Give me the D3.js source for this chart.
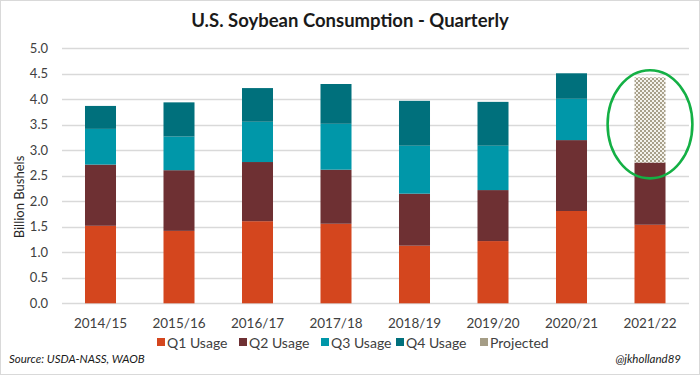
<!DOCTYPE html>
<html>
<head>
<meta charset="utf-8">
<script src="https://cdn.jsdelivr.net/npm/d3@7"></script>
<style>
  html, body { margin: 0; padding: 0; background: #fff; }
  svg { display: block; font-family: Lato, 'Noto Sans', sans-serif; }
</style>
</head>
<body>
<svg id="chart" width="700" height="375"></svg>
<script>
// values (billion bushels)
const years = ['2014/15', '2015/16', '2016/17', '2017/18', '2018/19', '2019/20', '2020/21', '2021/22'];
const q1Usage = [1.52, 1.42, 1.61, 1.56, 1.13, 1.22, 1.81, 1.54];
const q2Usage = [1.20, 1.19, 1.16, 1.06, 1.02, 1.00, 1.39, 1.22];
const q3Usage = [0.70, 0.66, 0.79, 0.90, 0.94, 0.87, 0.81, 0];
const q4Usage = [0.45, 0.67, 0.66, 0.78, 0.88, 0.86, 0.50, 0];
const projected = [0, 0, 0, 0, 0, 0, 0, 1.67];
const yTicks = [0, 0.5, 1, 1.5, 2, 2.5, 3, 3.5, 4, 4.5, 5];
const seriesNames = ['Q1 Usage', 'Q2 Usage', 'Q3 Usage', 'Q4 Usage', 'Projected'];
const seriesColors = ['#d4461e', '#6e3033', '#0097a9', '#00707c', '#a59d86'];

const width = 700, height = 375;
const svg = d3.select('#chart');

// outer frame
svg.append('rect')
  .attr('x', 0.5).attr('y', 0.5)
  .attr('width', width - 1).attr('height', height - 1)
  .attr('fill', '#fff').attr('stroke', '#d9d9d9');

// checkered fill for the projected segment
const defs = svg.append('defs');
const pat = defs.append('pattern')
  .attr('id', 'proj-pattern')
  .attr('patternUnits', 'userSpaceOnUse')
  .attr('width', 4).attr('height', 4);
pat.append('rect').attr('width', 4).attr('height', 4).attr('fill', '#a8a08a');
pat.append('rect').attr('x', 0).attr('y', 0).attr('width', 2).attr('height', 2).attr('fill', '#f4f2ec');
pat.append('rect').attr('x', 2).attr('y', 2).attr('width', 2).attr('height', 2).attr('fill', '#f4f2ec');

const x = d3.scaleBand()
  .domain(years)
  .range([61.25, 689.25])
  .paddingInner(0.605)
  .paddingOuter(0.3025);

const y = d3.scaleLinear()
  .domain([0, 5])
  .range([303.3, 48.3]);

// gridlines
svg.append('g')
  .selectAll('line')
  .data(yTicks)
  .join('line')
  .attr('x1', 62).attr('x2', 689)
  .attr('y1', d => Math.round(y(d)) + 0.5)
  .attr('y2', d => Math.round(y(d)) + 0.5)
  .attr('stroke', '#d9d9d9')
  .attr('stroke-width', 1.3);

// y tick labels
svg.append('g')
  .selectAll('text')
  .data(yTicks)
  .join('text')
  .attr('x', 48)
  .attr('y', d => y(d))
  .attr('dy', '0.35em')
  .attr('text-anchor', 'end')
  .attr('font-size', 13)
  .attr('fill', '#404040')
  .text(d => d3.format('.1f')(d));

// stacked bars
const rows = years.map((yr, i) => ({
  year: yr,
  q1: q1Usage[i], q2: q2Usage[i], q3: q3Usage[i], q4: q4Usage[i], proj: projected[i]
}));
const keys = ['q1', 'q2', 'q3', 'q4', 'proj'];
const stacked = d3.stack().keys(keys)(rows);

const fills = ['#d4461e', '#6e3033', '#0097a9', '#00707c', 'url(#proj-pattern)'];

svg.append('g')
  .selectAll('g')
  .data(stacked)
  .join('g')
  .attr('fill', (d, i) => fills[i])
  .selectAll('rect')
  .data(d => d.filter(s => s[1] - s[0] > 0))
  .join('rect')
  .attr('x', d => x(d.data.year))
  .attr('width', x.bandwidth())
  .attr('y', d => y(d[1]))
  .attr('height', d => y(d[0]) - y(d[1]));

// x labels
svg.append('g')
  .selectAll('text')
  .data(years)
  .join('text')
  .attr('x', d => x(d) + x.bandwidth() / 2)
  .attr('y', 328)
  .attr('text-anchor', 'middle')
  .attr('font-size', 13.5)
  .attr('fill', '#404040')
  .text(d => d);

// highlight ellipse around the projected year
const last = years[years.length - 1];
svg.append('ellipse')
  .attr('cx', x(last) + x.bandwidth() / 2)
  .attr('cy', y(3.51))
  .attr('rx', x.step() * 0.54)
  .attr('ry', y(2.45) - y(3.51))
  .attr('fill', 'none')
  .attr('stroke', '#14b045')
  .attr('stroke-width', 2.6);

// y axis title
svg.append('text')
  .attr('transform', 'translate(24,197) rotate(-90)')
  .attr('text-anchor', 'middle')
  .attr('font-size', 13)
  .attr('fill', '#262626')
  .text('Billion Bushels');

// title
svg.append('text')
  .attr('x', 350).attr('y', 27)
  .attr('text-anchor', 'middle')
  .attr('font-size', 18.5)
  .attr('font-weight', 'bold')
  .attr('fill', '#1a1a1a')
  .text('U.S. Soybean Consumption - Quarterly');

// legend
const legendX = [157, 239, 321, 396, 480];
const legend = svg.append('g')
  .selectAll('g')
  .data(seriesNames)
  .join('g')
  .attr('transform', (d, i) => `translate(${legendX[i]},348)`);
legend.append('rect')
  .attr('x', 0).attr('y', -10)
  .attr('width', 8).attr('height', 8)
  .attr('fill', (d, i) => seriesColors[i]);
legend.append('text')
  .attr('x', 10).attr('y', 0)
  .attr('font-size', 14)
  .attr('fill', '#404040')
  .text(d => d);

// footer
svg.append('text')
  .attr('x', 9).attr('y', 363)
  .attr('font-size', 11.5)
  .attr('font-style', 'italic')
  .attr('fill', '#1a1a1a')
  .text('Source: USDA-NASS, WAOB');
svg.append('text')
  .attr('x', 681).attr('y', 363)
  .attr('text-anchor', 'end')
  .attr('font-size', 11.5)
  .attr('font-style', 'italic')
  .attr('fill', '#1a1a1a')
  .text('@jkholland89');
</script>
</body>
</html>
